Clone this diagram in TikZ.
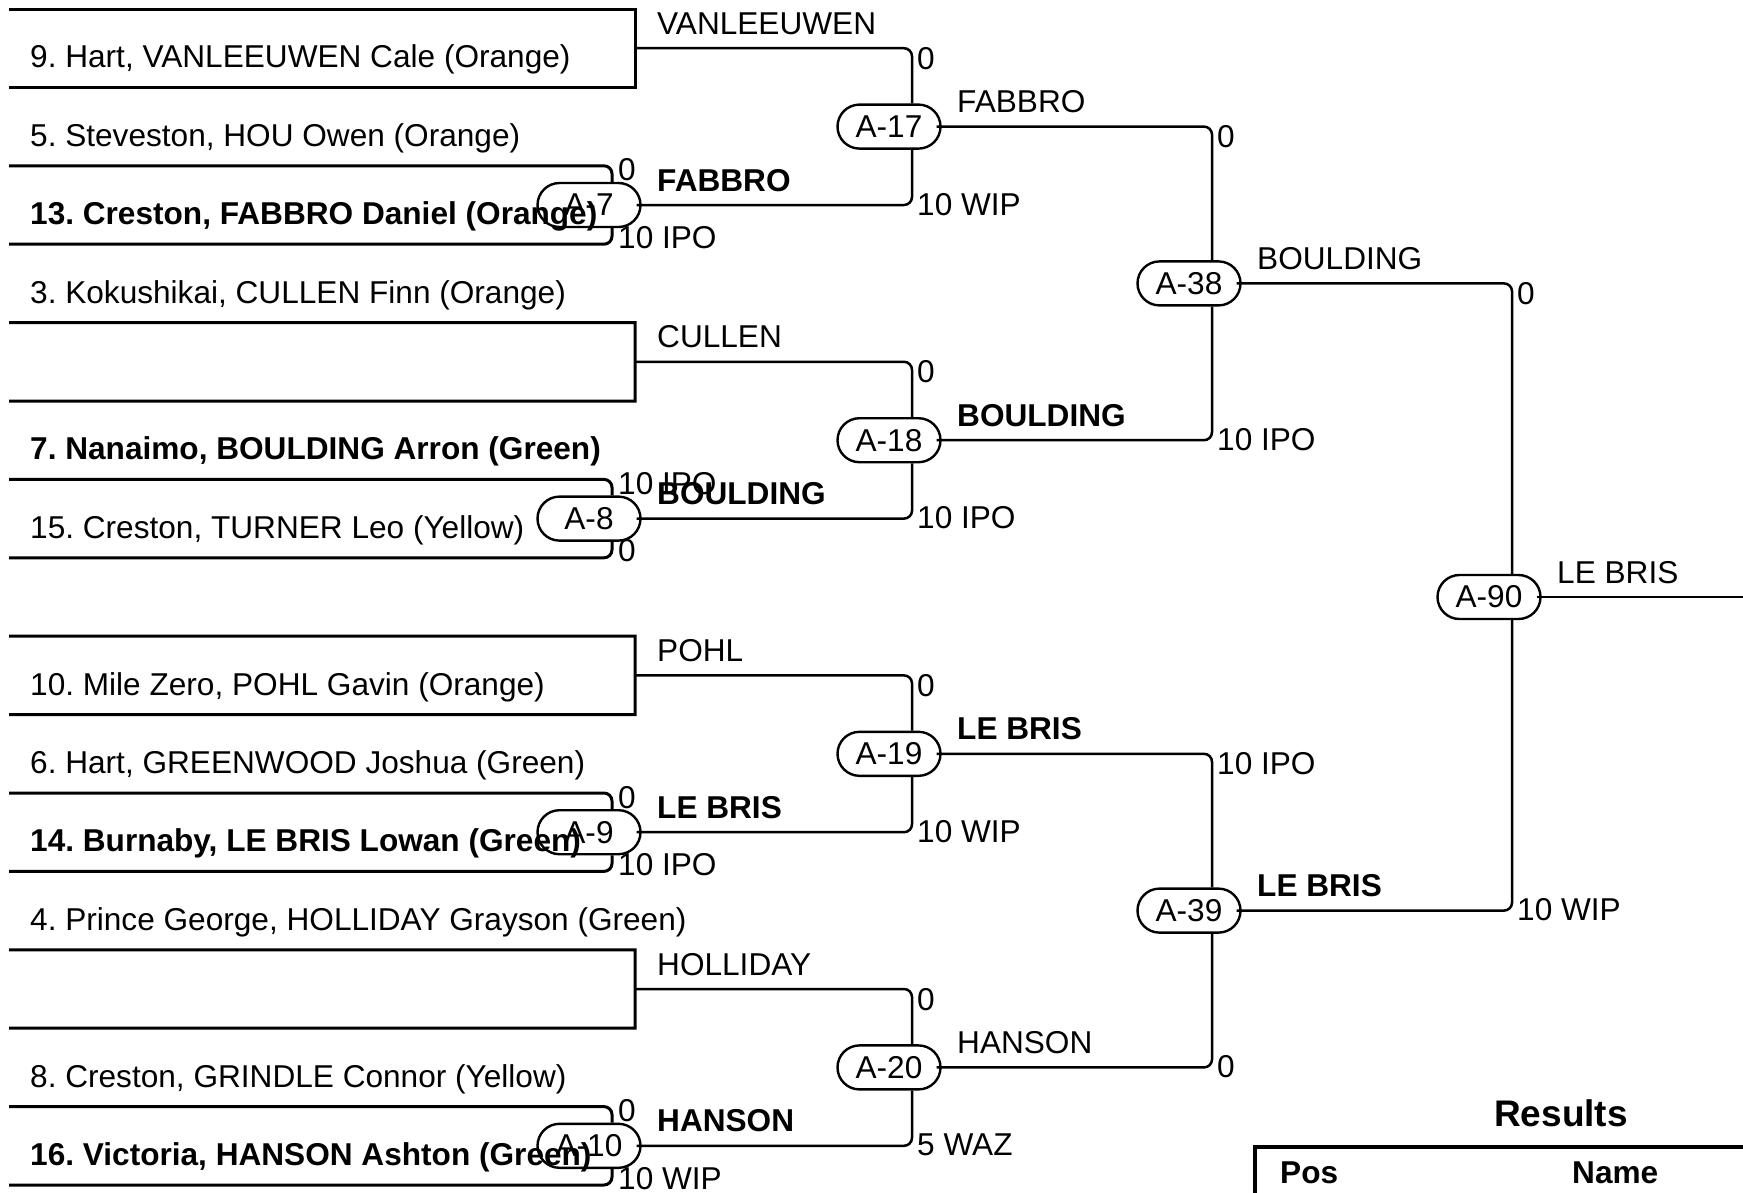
\documentclass[tikz,border=0pt]{standalone}
\usepackage{fontspec}
\setmainfont{Liberation Sans}
\usetikzlibrary{shapes.misc}
\frenchspacing
\begin{document}
\frenchspacing
\begin{tikzpicture}[x=1pt,y=-1pt,
  txt/.style={inner sep=0pt, anchor=base west, font=\fontsize{31.6}{37}\selectfont},
  btxt/.style={inner sep=0pt, anchor=base west, font=\fontsize{31.6}{37}\selectfont\bfseries},
  slotline/.style={line width=3pt},
  pairline/.style={line width=3pt, rounded corners=8pt},
  conn/.style={line width=2.5pt, rounded corners=8pt},
  bubble/.style={draw, rounded rectangle, line width=2.4pt, minimum width=103pt, minimum height=44pt, inner sep=0pt, font=\fontsize{31.6}{37}\selectfont},
]
\useasboundingbox (0,0) rectangle (1743,1192);

% slot line start points
\foreach \i in {0,...,15} { \coordinate (L\i) at (9, 9+78.4*\i); }
% bye box corners
\coordinate (R0) at (635,9);      \coordinate (R1) at (635,87.4);
\coordinate (R4) at (635,322.6);  \coordinate (R5) at (635,401);
\coordinate (R8) at (635,636.2);  \coordinate (R9) at (635,714.6);
\coordinate (R12) at (635,949.8); \coordinate (R13) at (635,1028.2);
\coordinate (O0) at (635,48.2);
\coordinate (O1) at (635,361.8);
\coordinate (O2) at (635,675.4);
\coordinate (O3) at (635,989);
\coordinate (E) at (1743,597);

% participant texts
\node[txt]  (p1)  at (30,67.9)   {9. Hart, VANLEEUWEN Cale (Orange)};
\node[txt]  (p2)  at (30,146.3)  {5. Steveston, HOU Owen (Orange)};
\node[btxt] (p3)  at (30,224.7)  {13. Creston, FABBRO Daniel (Orange)};
\node[txt]  (p4)  at (30,303.1)  {3. Kokushikai, CULLEN Finn (Orange)};
\node[btxt] (p6)  at (30,459.9)  {7. Nanaimo, BOULDING Arron (Green)};
\node[txt]  (p7)  at (30,538.3)  {15. Creston, TURNER Leo (Yellow)};
\node[txt]  (p9)  at (30,695.1)  {10. Mile Zero, POHL Gavin (Orange)};
\node[txt]  (p10) at (30,773.5)  {6. Hart, GREENWOOD Joshua (Green)};
\node[btxt] (p11) at (30,851.9)  {14. Burnaby, LE BRIS Lowan (Green)};
\node[txt]  (p12) at (30,930.3)  {4. Prince George, HOLLIDAY Grayson (Green)};
\node[txt]  (p14) at (30,1087.1) {8. Creston, GRINDLE Connor (Yellow)};
\node[btxt] (p15) at (30,1165.5) {16. Victoria, HANSON Ashton (Green)};

% match bubbles
\node[bubble] (A7)  at (589,205)    {A-7};
\node[bubble] (A8)  at (589,518.6)  {A-8};
\node[bubble] (A9)  at (589,832.2)  {A-9};
\node[bubble] (A10) at (589,1145.8) {A-10};
\node[bubble] (A17) at (889,126.6)  {A-17};
\node[bubble] (A18) at (889,440.2)  {A-18};
\node[bubble] (A19) at (889,753.8)  {A-19};
\node[bubble] (A20) at (889,1067.4) {A-20};
\node[bubble] (A38) at (1189,283.4) {A-38};
\node[bubble] (A39) at (1189,910.6) {A-39};
\node[bubble] (A90) at (1489,597)   {A-90};

% bye boxes
\draw[slotline] (L0) -- (R0) -- (R1) -- (L1);
\draw[slotline] (L4) -- (R4) -- (R5) -- (L5);
\draw[slotline] (L8) -- (R8) -- (R9) -- (L9);
\draw[slotline] (L12) -- (R12) -- (R13) -- (L13);

% first round pairs
\draw[pairline] (L2) -| ([xshift=23pt]A7.north);
\draw[pairline] (L3) -| ([xshift=23pt]A7.south);
\draw[pairline] (L6) -| ([xshift=23pt]A8.north);
\draw[pairline] (L7) -| ([xshift=23pt]A8.south);
\draw[pairline] (L10) -| ([xshift=23pt]A9.north);
\draw[pairline] (L11) -| ([xshift=23pt]A9.south);
\draw[pairline] (L14) -| ([xshift=23pt]A10.north);
\draw[pairline] (L15) -| ([xshift=23pt]A10.south);

% round 2 inputs
\draw[conn] (O0) -| ([xshift=23pt]A17.north);
\draw[conn] ([xshift=-5pt]A7.east) -| ([xshift=23pt]A17.south);
\draw[conn] (O1) -| ([xshift=23pt]A18.north);
\draw[conn] ([xshift=-5pt]A8.east) -| ([xshift=23pt]A18.south);
\draw[conn] (O2) -| ([xshift=23pt]A19.north);
\draw[conn] ([xshift=-5pt]A9.east) -| ([xshift=23pt]A19.south);
\draw[conn] (O3) -| ([xshift=23pt]A20.north);
\draw[conn] ([xshift=-5pt]A10.east) -| ([xshift=23pt]A20.south);
% round 3 inputs
\draw[conn] ([xshift=-5pt]A17.east) -| ([xshift=23pt]A38.north);
\draw[conn] ([xshift=-5pt]A18.east) -| ([xshift=23pt]A38.south);
\draw[conn] ([xshift=-5pt]A19.east) -| ([xshift=23pt]A39.north);
\draw[conn] ([xshift=-5pt]A20.east) -| ([xshift=23pt]A39.south);
% final
\draw[conn] ([xshift=-5pt]A38.east) -| ([xshift=23pt]A90.north);
\draw[conn] ([xshift=-5pt]A39.east) -| ([xshift=23pt]A90.south);
\draw[conn] ([xshift=-5pt]A90.east) -- (E);

% winner labels
\node[txt]  (w1)  at (657,34.2)   {VANLEEUWEN};
\node[btxt] (w2)  at (657,191)    {FABBRO};
\node[txt]  (w3)  at (657,347.8)  {CULLEN};
\node[btxt] (w4)  at (657,504.6)  {BOULDING};
\node[txt]  (w5)  at (657,661.4)  {POHL};
\node[btxt] (w6)  at (657,818.2)  {LE BRIS};
\node[txt]  (w7)  at (657,975)    {HOLLIDAY};
\node[btxt] (w8)  at (657,1131.8) {HANSON};
\node[txt]  (w9)  at (957,112.6)  {FABBRO};
\node[btxt] (w10) at (957,426.2)  {BOULDING};
\node[btxt] (w11) at (957,739.8)  {LE BRIS};
\node[txt]  (w12) at (957,1053.4) {HANSON};
\node[txt]  (w13) at (1257,269.4) {BOULDING};
\node[btxt] (w14) at (1257,896.6) {LE BRIS};
\node[txt]  (w15) at (1557,583)   {LE BRIS};

% scores round 1
\node[txt] (s1)  at (618,180.8)  {0};
\node[txt] (s2)  at (618,248.2)  {10 IPO};
\node[txt] (s3)  at (618,494.4)  {10 IPO};
\node[txt] (s4)  at (618,561.8)  {0};
\node[txt] (s5)  at (618,808)    {0};
\node[txt] (s6)  at (618,875.4)  {10 IPO};
\node[txt] (s7)  at (618,1121.6) {0};
\node[txt] (s8)  at (618,1189)   {10 WIP};
% scores round 2
\node[txt] (s9)  at (917,69.2)   {0};
\node[txt] (s10) at (917,215)    {10 WIP};
\node[txt] (s11) at (917,382.8)  {0};
\node[txt] (s12) at (917,528.6)  {10 IPO};
\node[txt] (s13) at (917,696.4)  {0};
\node[txt] (s14) at (917,842.2)  {10 WIP};
\node[txt] (s15) at (917,1010)   {0};
\node[txt] (s16) at (917,1155.8) {5 WAZ};
% scores round 3
\node[txt] (s17) at (1217,147.6) {0};
\node[txt] (s18) at (1217,450.2) {10 IPO};
\node[txt] (s19) at (1217,774.8) {10 IPO};
\node[txt] (s20) at (1217,1077.4) {0};
% scores final
\node[txt] (s21) at (1517,304.4) {0};
\node[txt] (s22) at (1517,920.6) {10 WIP};

% results
\node[inner sep=0pt, anchor=base, font=\fontsize{37}{44}\selectfont\bfseries] (res) at (1561,1126) {Results};
\coordinate (T1) at (1255,1200);
\coordinate (T2) at (1255,1147);
\coordinate (T3) at (1750,1147);
\draw[line width=4pt] (T1) -- (T2) -- (T3);
\node[btxt] (pos)  at (1280,1183) {Pos};
\node[btxt] (name) at (1572,1183) {Name};
\end{tikzpicture}
\end{document}
